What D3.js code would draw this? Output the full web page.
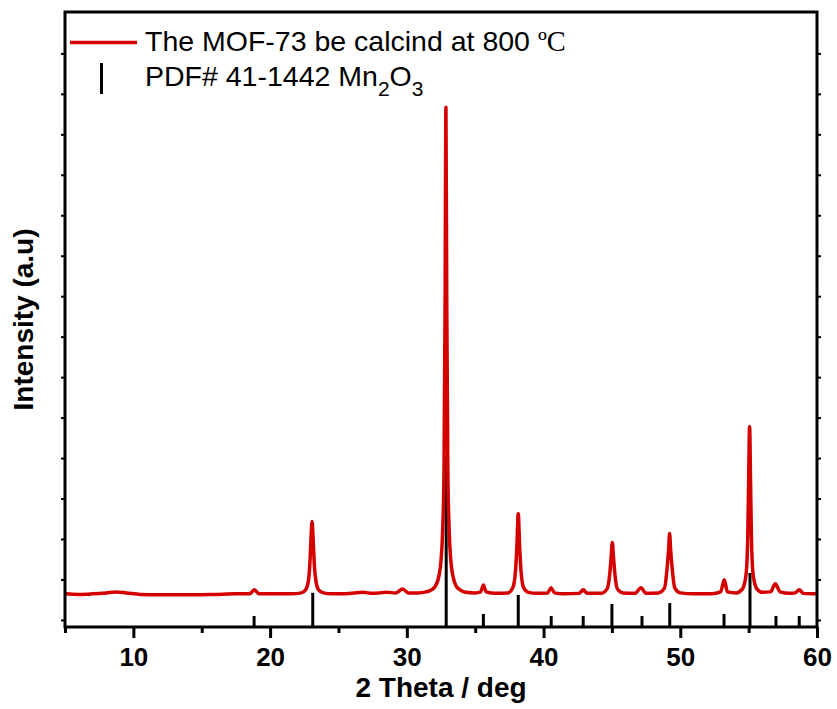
<!DOCTYPE html>
<html>
<head>
<meta charset="utf-8">
<script src="https://cdn.jsdelivr.net/npm/d3@7"></script>
<style>
	body { margin: 0; background: #fff; }
	svg { display: block; font-family: "Liberation Sans", Arial, sans-serif; }
</style>
</head>
<body>
<div id="chart"></div>
<script>
// measured pattern: [2theta, intensity a.u.]
var patternPoints = [
	[5.0, 644], [6.0, 631], [7.0, 644], [8.0, 668], [8.7, 693], [9.5, 668],
	[10.5, 631], [12.0, 619], [14.0, 619], [16.0, 631], [17.5, 644], [18.5, 644],
	[18.85, 743], [19.2, 644], [20.5, 644], [21.5, 644], [22.3, 668], [22.6, 743],
	[22.8, 965], [22.92, 1460], [23.0, 2079], [23.07, 2433], [23.14, 2079], [23.22, 1460],
	[23.35, 965], [23.55, 743], [23.9, 668], [24.5, 644], [25.5, 644], [26.8, 681],
	[27.5, 656], [28.5, 681], [29.2, 668], [29.7, 767], [30.1, 668], [30.8, 668],
	[31.4, 693], [31.8, 743], [32.1, 842], [32.35, 1089], [32.5, 1460], [32.62, 2203],
	[32.72, 3688], [32.8, 7895], [32.86, 12672], [32.92, 7895], [33.0, 3688], [33.1, 2203],
	[33.22, 1460], [33.37, 1089], [33.6, 842], [33.9, 743], [34.3, 681], [35.0, 668],
	[35.4, 693], [35.6, 866], [35.8, 693], [36.5, 656], [37.4, 668], [37.75, 792],
	[37.95, 1213], [38.05, 1832], [38.15, 2624], [38.25, 1832], [38.35, 1213], [38.55, 792],
	[38.9, 681], [39.5, 656], [40.3, 668], [40.55, 792], [40.8, 668], [41.5, 644],
	[42.6, 656], [42.9, 743], [43.2, 656], [44.2, 656], [44.65, 767], [44.85, 1163],
	[44.95, 1584], [45.03, 1913], [45.11, 1584], [45.21, 1163], [45.4, 767], [45.8, 668],
	[46.7, 656], [47.12, 792], [47.5, 656], [48.4, 668], [48.85, 792], [49.05, 1337],
	[49.15, 1757], [49.22, 2136], [49.29, 1757], [49.39, 1337], [49.6, 792], [50.0, 668],
	[51.0, 644], [52.3, 644], [52.95, 693], [53.22, 990], [53.45, 693], [54.1, 668],
	[54.55, 767], [54.8, 1089], [54.93, 1955], [55.0, 3440], [55.07, 4777], [55.14, 3440],
	[55.21, 1955], [55.34, 1089], [55.6, 767], [56.0, 681], [56.6, 693], [56.95, 891],
	[57.3, 693], [58.0, 656], [58.4, 668], [58.7, 743], [59.0, 656], [60.0, 644]
];

// PDF# 41-1442 Mn2O3 reference lines
var pdfTheta = [18.83, 23.12, 32.88, 35.6, 38.15, 40.56, 42.9, 45.0, 47.2, 49.23, 53.2, 55.1, 57.0, 58.7];
var pdfRel   = [6.4, 20, 100, 7.6, 18.7, 6.4, 6.4, 13.5, 6.4, 14, 7.6, 31.6, 6.4, 6.4];

var xMajorTicks = [10, 20, 30, 40, 50, 60];
var xMinorTicks = [5, 15, 25, 35, 45, 55];
var yTicks = d3.range(0, 15000, 1000);

var legendLabels = ["The MOF-73 be calcind at 800 ", "PDF# 41-1442 Mn"];

var W = 837, H = 709;
// careful: "top" is taken by window.top
var plotLeft = 65, plotRight = 817, plotTop = 12, plotBottom = 627;
var RED = "#d40000";

var svg = d3.select("#chart").append("svg")
	.attr("width", W)
	.attr("height", H);

var x = d3.scaleLinear().domain([5, 60]).range([plotLeft, plotRight]);
var y = d3.scaleLinear().domain([-175, 15023]).range([plotBottom, plotTop]);
// sticks are relative intensity, drawn up from the bottom axis
var yRel = d3.scaleLinear().domain([0, 100]).range([plotBottom, 456]);

svg.append("clipPath").attr("id", "plotclip")
	.append("rect")
	.attr("x", plotLeft).attr("y", plotTop)
	.attr("width", plotRight - plotLeft).attr("height", plotBottom - plotTop);

// reference sticks
svg.append("g")
	.selectAll("line")
	.data(pdfTheta)
	.enter()
	.append("line")
	.attr("x1", function(d) { return x(d); })
	.attr("x2", function(d) { return x(d); })
	.attr("y1", plotBottom)
	.attr("y2", function(d, i) { return yRel(pdfRel[i]); })
	.attr("stroke", "#000")
	.attr("stroke-width", 3);

// pattern
var line = d3.line()
	.x(function(d) { return x(d[0]); })
	.y(function(d) { return y(d[1]); })
	.curve(d3.curveMonotoneX);

svg.append("path")
	.datum(patternPoints)
	.attr("clip-path", "url(#plotclip)")
	.attr("d", line)
	.attr("fill", "none")
	.attr("stroke", RED)
	.attr("stroke-width", 3.5)
	.attr("stroke-linejoin", "round");

// axes
var gx = svg.append("g")
	.attr("transform", "translate(0," + plotBottom + ")")
	.call(d3.axisBottom(x).tickValues(xMajorTicks).tickSize(11).tickPadding(10).tickFormat(d3.format("d")));
gx.select(".domain").remove();
gx.selectAll("line").attr("stroke-width", 3);
gx.selectAll("text")
	.attr("font-size", 26)
	.attr("font-weight", "bold")
	.attr("fill", "#000");

var gxm = svg.append("g")
	.attr("transform", "translate(0," + plotBottom + ")")
	.call(d3.axisBottom(x).tickValues(xMinorTicks).tickSize(6).tickFormat(""));
gxm.select(".domain").remove();
gxm.selectAll("line").attr("stroke-width", 3);

var gyl = svg.append("g")
	.attr("transform", "translate(" + plotLeft + ",0)")
	.call(d3.axisLeft(y).tickValues(yTicks).tickSize(4).tickFormat(""));
gyl.select(".domain").remove();
gyl.selectAll("line").attr("stroke-width", 2);

var gyr = svg.append("g")
	.attr("transform", "translate(" + plotRight + ",0)")
	.call(d3.axisRight(y).tickValues(yTicks).tickSize(4).tickFormat(""));
gyr.select(".domain").remove();
gyr.selectAll("line").attr("stroke-width", 2);

svg.append("rect")
	.attr("x", plotLeft).attr("y", plotTop)
	.attr("width", plotRight - plotLeft).attr("height", plotBottom - plotTop)
	.attr("fill", "none")
	.attr("stroke", "#000")
	.attr("stroke-width", 3);

// axis titles
svg.append("text")
	.attr("x", (plotLeft + plotRight) / 2)
	.attr("y", 697)
	.attr("text-anchor", "middle")
	.attr("font-size", 28)
	.attr("font-weight", "bold")
	.text("2 Theta / deg");

svg.append("text")
	.attr("transform", "translate(33," + ((plotTop + plotBottom) / 2) + ") rotate(-90)")
	.attr("text-anchor", "middle")
	.attr("font-size", 28)
	.attr("font-weight", "bold")
	.text("Intensity (a.u)");

// legend
var lg = svg.append("g");
lg.append("line")
	.attr("x1", 70).attr("x2", 137)
	.attr("y1", 42.5).attr("y2", 42.5)
	.attr("stroke", RED)
	.attr("stroke-width", 3.5);
var t1 = lg.append("text")
	.attr("x", 145).attr("y", 51)
	.attr("font-size", 28.5);
t1.append("tspan").text(legendLabels[0]);
t1.append("tspan").attr("font-family", "'Liberation Serif', 'Times New Roman', serif").text("\u00baC");

lg.append("line")
	.attr("x1", 101.5).attr("x2", 101.5)
	.attr("y1", 63).attr("y2", 94)
	.attr("stroke", "#000")
	.attr("stroke-width", 3);
var t2 = lg.append("text")
	.attr("x", 145).attr("y", 86)
	.attr("font-size", 28.5);
t2.append("tspan").text(legendLabels[1]);
t2.append("tspan").attr("font-size", 21).attr("dy", 10).text("2");
t2.append("tspan").attr("dy", -10).text("O");
t2.append("tspan").attr("font-size", 21).attr("dy", 10).text("3");
</script>
</body>
</html>
